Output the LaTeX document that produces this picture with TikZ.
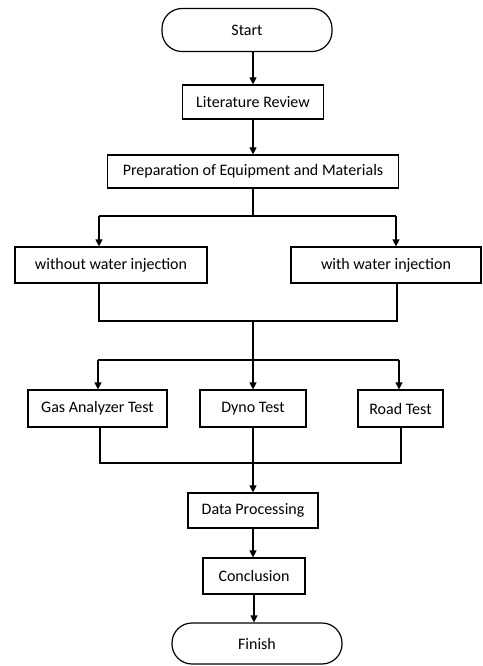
\documentclass[tikz,border=0pt]{standalone}
\usepackage{fontspec}
\setmainfont{Carlito}
\usetikzlibrary{arrows.meta,calc}
\begin{document}
\begin{tikzpicture}[x=1pt,y=-1pt,
  box/.style={draw,line width=1.2pt,minimum width=#1,inner sep=0pt,font=\fontsize{16}{19}\selectfont},
  term/.style={draw,line width=1.2pt,rounded corners=20pt,minimum width=#1,inner sep=0pt,font=\fontsize{16}{19}\selectfont},
  conn/.style={line width=1.2pt},
  arr/.style={line width=1.2pt,-{Triangle[length=7pt,width=7pt]}}]
\useasboundingbox (0,0) rectangle (482,666);
\node[term=170pt,minimum height=43pt] (start) at (247,30) {Start};
\node[box=141pt,minimum height=34pt] (lit) at (253,102) {Literature Review};
\node[box=291pt,minimum height=33pt] (prep) at (253,171.5) {Preparation of Equipment and Materials};
\node[box=192pt,minimum height=36pt] (wo) at (111,265) {without water injection};
\node[box=190pt,minimum height=36pt] (wi) at (386,265) {with water injection};
\node[box=139pt,minimum height=37pt] (gas) at (97.5,408.5) {Gas Analyzer Test};
\node[box=106pt,minimum height=37pt] (dyno) at (253,408.5) {Dyno Test};
\node[box=85pt,minimum height=37pt] (road) at (400.5,408.5) {Road Test};
\node[box=130pt,minimum height=35pt] (data) at (253,510.5) {Data Processing};
\node[box=102pt,minimum height=36pt] (conc) at (254,576) {Conclusion};
\node[term=170pt,minimum height=41pt] (fin) at (257,643.5) {Finish};
% coordinates
\coordinate (j1) at (253,216);
\coordinate (j1L) at (99,216);
\coordinate (j1R) at (396,216);
\coordinate (j2L) at (99,321);
\coordinate (j2R) at (397,321);
\coordinate (j2) at (253,321);
\coordinate (j3) at (253,360);
\coordinate (j3L) at (98,360);
\coordinate (j3R) at (399,360);
\coordinate (j4L) at (100,463);
\coordinate (j4R) at (401,463);
% connectors
\draw[arr] (lit.north |- start.south) -- (lit.north);
\draw[arr] (lit.south) -- (prep.north);
\draw[conn] (j1 |- prep.south) -- (j1);
\draw[conn] (j1L) -- (j1R);
\draw[arr] (j1L) -- (j1L |- wo.north);
\draw[arr] (j1R) -- (j1R |- wi.north);
\draw[conn] (j2L |- wo.south) -- (j2L) -- (j2R) -- (j2R |- wi.south);
\draw[conn] (j2) -- (j3);
\draw[conn] (j3L) -- (j3R);
\draw[arr] (j3L) -- (j3L |- gas.north);
\draw[arr] (j3) -- (dyno.north);
\draw[arr] (j3R) -- (j3R |- road.north);
\draw[conn] (j4L |- gas.south) -- (j4L) -- (j4R) -- (j4R |- road.south);
\draw[arr] (dyno.south) -- (data.north);
\draw[arr] (data.south) -- (data.south |- conc.north);
\draw[arr] (conc.south) -- (conc.south |- fin.north);
\end{tikzpicture}
\end{document}
